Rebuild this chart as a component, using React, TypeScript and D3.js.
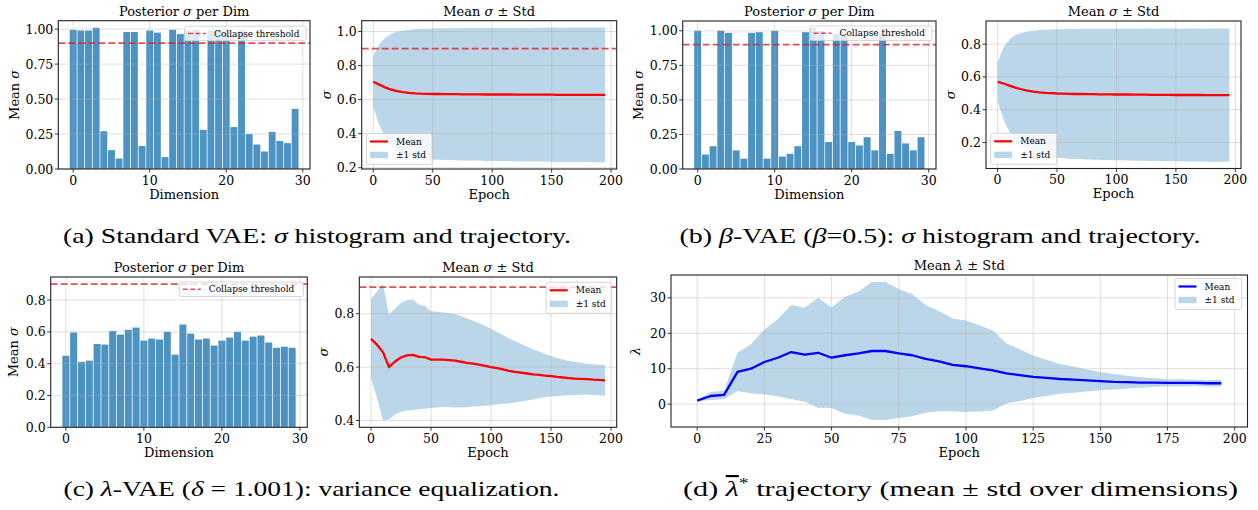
import React from "react";
import * as d3 from "d3";

// ---------------- data ----------------
const dims = d3.range(30);
const epochs = d3.range(0, 200, 5);
const threshold = 0.9;

const sigmaStandard = [0.995, 0.99, 0.99, 1.01, 0.27, 0.135, 0.075, 0.98, 0.98, 0.165, 0.99, 0.975, 0.085, 0.995, 0.965, 0.99, 0.995, 0.28, 0.99, 0.99, 0.985, 0.3, 0.99, 0.25, 0.175, 0.125, 0.265, 0.2, 0.185, 0.43];
const sigmaBeta = [1.0, 0.105, 0.165, 1.0, 0.985, 0.135, 0.075, 0.985, 0.99, 0.075, 1.0, 0.09, 0.11, 0.165, 0.99, 1.02, 1.0, 0.195, 0.98, 0.98, 0.195, 0.17, 0.23, 0.135, 0.98, 0.11, 0.275, 0.185, 0.135, 0.23];
const sigmaLambda = [0.45, 0.596, 0.41, 0.419, 0.524, 0.52, 0.606, 0.583, 0.613, 0.627, 0.545, 0.558, 0.552, 0.6, 0.457, 0.646, 0.589, 0.552, 0.558, 0.514, 0.545, 0.564, 0.6, 0.545, 0.57, 0.577, 0.533, 0.5, 0.507, 0.5];

const meanStandard = [0.705, 0.688, 0.672, 0.659, 0.65, 0.644, 0.64, 0.637, 0.635, 0.634, 0.633, 0.633, 0.632, 0.632, 0.632, 0.631, 0.631, 0.631, 0.631, 0.63, 0.63, 0.63, 0.63, 0.63, 0.629, 0.629, 0.629, 0.629, 0.629, 0.629, 0.629, 0.628, 0.628, 0.628, 0.628, 0.628, 0.628, 0.628, 0.628, 0.628];
const stdStandard = [0.15, 0.237, 0.29, 0.326, 0.348, 0.362, 0.371, 0.377, 0.381, 0.383, 0.385, 0.386, 0.387, 0.387, 0.388, 0.388, 0.389, 0.389, 0.389, 0.39, 0.39, 0.391, 0.391, 0.391, 0.392, 0.392, 0.392, 0.393, 0.393, 0.393, 0.394, 0.394, 0.394, 0.395, 0.395, 0.395, 0.395, 0.396, 0.396, 0.396];

const meanBeta = [0.57, 0.56, 0.547, 0.535, 0.525, 0.517, 0.511, 0.506, 0.503, 0.501, 0.499, 0.498, 0.497, 0.496, 0.496, 0.495, 0.495, 0.494, 0.494, 0.494, 0.493, 0.493, 0.493, 0.492, 0.492, 0.492, 0.491, 0.491, 0.491, 0.491, 0.49, 0.49, 0.49, 0.49, 0.49, 0.489, 0.489, 0.489, 0.489, 0.489];
const stdBeta = [0.12, 0.22, 0.283, 0.32, 0.343, 0.36, 0.371, 0.38, 0.385, 0.388, 0.391, 0.393, 0.395, 0.396, 0.397, 0.398, 0.399, 0.399, 0.4, 0.4, 0.401, 0.401, 0.402, 0.402, 0.402, 0.403, 0.403, 0.403, 0.404, 0.404, 0.404, 0.404, 0.405, 0.405, 0.405, 0.405, 0.406, 0.406, 0.406, 0.406];

const meanLambdaSigma = [0.706, 0.684, 0.656, 0.6, 0.621, 0.636, 0.644, 0.646, 0.638, 0.637, 0.628, 0.628, 0.628, 0.626, 0.624, 0.62, 0.616, 0.613, 0.609, 0.605, 0.6, 0.596, 0.591, 0.586, 0.582, 0.579, 0.576, 0.573, 0.571, 0.568, 0.566, 0.563, 0.561, 0.559, 0.557, 0.556, 0.555, 0.553, 0.552, 0.55];
const stdLambdaSigma = [0.148, 0.2, 0.256, 0.196, 0.199, 0.204, 0.207, 0.207, 0.196, 0.193, 0.181, 0.179, 0.177, 0.176, 0.175, 0.171, 0.166, 0.161, 0.156, 0.15, 0.144, 0.136, 0.128, 0.122, 0.115, 0.108, 0.101, 0.094, 0.087, 0.081, 0.076, 0.071, 0.067, 0.064, 0.062, 0.06, 0.058, 0.058, 0.057, 0.058];

const meanLambda = [1.0, 2.3, 2.6, 9.1, 10.0, 11.9, 13.1, 14.7, 14.0, 14.5, 13.1, 13.8, 14.3, 15.0, 15.0, 14.3, 13.8, 12.8, 12.1, 11.1, 10.7, 10.1, 9.5, 8.7, 8.2, 7.7, 7.4, 7.1, 6.9, 6.7, 6.5, 6.3, 6.2, 6.1, 6.1, 6.0, 6.0, 6.0, 5.9, 5.9];
const stdLambda = [0.2, 1.1, 1.2, 5.4, 6.9, 9.2, 10.9, 13.3, 13.3, 15.5, 14.2, 16.5, 17.5, 19.5, 19.5, 18.2, 17.2, 15.2, 14.1, 13.1, 12.9, 12.2, 11.3, 8.5, 7.3, 6.0, 5.1, 4.2, 3.7, 3.1, 2.6, 2.2, 1.8, 1.5, 1.2, 1.0, 1.0, 0.9, 0.9, 0.9];

const barTicksX = [0, 10, 20, 30];
const epochTicks = [0, 50, 100, 150, 200];
const epochTicksD = [0, 25, 50, 75, 100, 125, 150, 175, 200];
const ticksA1 = [0, 0.25, 0.5, 0.75, 1.0];
const ticksA2 = [0.2, 0.4, 0.6, 0.8, 1.0];
const ticksB2 = [0.2, 0.4, 0.6, 0.8];
const ticksC1 = [0, 0.2, 0.4, 0.6, 0.8];
const ticksC2 = [0.4, 0.6, 0.8];
const ticksD = [0, 10, 20, 30];

// ---------------- styles ----------------
const FONT = "'DejaVu Serif', serif";
const CAP_FONT = "'Liberation Serif', serif";
const C0 = "#1f77b4";
const THR = "#d62728";

type Box = { l: number; r: number; t: number; b: number };

function padExt(lo: number, hi: number): [number, number] {
  const r = hi - lo;
  return [lo - 0.05 * r, hi + 0.05 * r];
}

const It = ({ children }: any) => <tspan fontStyle="italic">{children}</tspan>;

function Panel(props: any) {
  const { id, box, xd, yd, xt, yt, xf, yf, title, xlabel, ylabel, ylx, render } = props;
  const b: Box = box;
  const x = d3.scaleLinear().domain(xd).range([b.l, b.r]);
  const y = d3.scaleLinear().domain(yd).range([b.b, b.t]);
  const parts = render(x, y);
  const cx = (b.l + b.r) / 2;
  const cy = (b.t + b.b) / 2;
  return (
    <g>
      <defs>
        <clipPath id={id}>
          <rect x={b.l} y={b.t} width={b.r - b.l} height={b.b - b.t} />
        </clipPath>
      </defs>
      <g clipPath={`url(#${id})`}>
        {parts.under}
        {xt.map((v: number) => (
          <line key={"gx" + v} x1={x(v)} x2={x(v)} y1={b.t} y2={b.b} stroke="#b0b0b0" strokeOpacity={0.5} strokeWidth={0.8} />
        ))}
        {yt.map((v: number) => (
          <line key={"gy" + v} x1={b.l} x2={b.r} y1={y(v)} y2={y(v)} stroke="#b0b0b0" strokeOpacity={0.5} strokeWidth={0.8} />
        ))}
        {parts.over}
      </g>
      <rect x={b.l} y={b.t} width={b.r - b.l} height={b.b - b.t} fill="none" stroke="#222" strokeWidth={1.1} />
      {xt.map((v: number) => (
        <g key={"tx" + v}>
          <line x1={x(v)} x2={x(v)} y1={b.b} y2={b.b + 3.5} stroke="#222" strokeWidth={0.9} />
          <text x={x(v)} y={b.b + 15.5} textAnchor="middle" fontSize={12.5} fontFamily={FONT} fill="#000">
            {xf(v)}
          </text>
        </g>
      ))}
      {yt.map((v: number) => (
        <g key={"ty" + v}>
          <line x1={b.l - 3.5} x2={b.l} y1={y(v)} y2={y(v)} stroke="#222" strokeWidth={0.9} />
          <text x={b.l - 5} y={y(v)} dy="0.36em" textAnchor="end" fontSize={12.5} fontFamily={FONT} fill="#000">
            {yf(v)}
          </text>
        </g>
      ))}
      <text x={cx} y={b.t - 5} textAnchor="middle" fontSize={13} fontFamily={FONT} fill="#000">
        {title}
      </text>
      <text x={cx} y={b.b + 29.5} textAnchor="middle" fontSize={13} fontFamily={FONT} fill="#000">
        {xlabel}
      </text>
      <text
        transform={`translate(${ylx},${cy}) rotate(-90)`}
        textAnchor="middle"
        dy="0.36em"
        fontSize={13}
        fontFamily={FONT}
        fill="#000"
      >
        {ylabel}
      </text>
      {parts.legend}
    </g>
  );
}

function Legend({ x, y, w, items }: any) {
  const n = items.length;
  const h = n === 1 ? 14.5 : 31;
  return (
    <g>
      <rect x={x} y={y} width={w} height={h} rx={2} fill="#fff" fillOpacity={0.8} stroke="#cccccc" strokeWidth={0.8} />
      {items.map((it: any, i: number) => {
        const cy = y + (n === 1 ? 7.25 : 8 + i * 13.5);
        let handle;
        if (it.type === "patch") {
          handle = <rect x={x + 3.5} y={cy - 3.2} width={18} height={6.4} fill={C0} fillOpacity={0.3} />;
        } else if (it.type === "dash") {
          handle = <line x1={x + 3.5} x2={x + 21.5} y1={cy} y2={cy} stroke={THR} strokeOpacity={0.8} strokeWidth={1.6} strokeDasharray="5,2.5" />;
        } else {
          handle = <line x1={x + 3.5} x2={x + 21.5} y1={cy} y2={cy} stroke={it.color} strokeWidth={2.2} />;
        }
        return (
          <g key={i}>
            {handle}
            <text x={x + 29.5} y={cy} dy="0.35em" fontSize={9} fontFamily={FONT} fill="#000">
              {it.label}
            </text>
          </g>
        );
      })}
    </g>
  );
}

function barRender(values: number[], legendBox: any) {
  return (x: any, y: any) => {
    const w = x(0.9) - x(0);
    return {
      under: values.map((v, i) => (
        <rect key={i} x={x(dims[i] - 0.45)} y={y(v)} width={w} height={y(0) - y(v)} fill={C0} fillOpacity={0.8} />
      )),
      over: (
        <line x1={x.range()[0]} x2={x.range()[1]} y1={y(threshold)} y2={y(threshold)} stroke={THR} strokeOpacity={0.8} strokeWidth={1.8} strokeDasharray="7,3" />
      ),
      legend: <Legend {...legendBox} items={[{ type: "dash", label: "Collapse threshold" }]} />,
    };
  };
}

function trajRender(mean: number[], std: number[], color: string, legendBox: any, showThr: boolean) {
  return (x: any, y: any) => {
    const area = d3
      .area<number>()
      .x((_, i) => x(epochs[i]))
      .y0((m, i) => y(m - std[i]))
      .y1((m, i) => y(m + std[i]));
    const line = d3
      .line<number>()
      .x((_, i) => x(epochs[i]))
      .y((m) => y(m));
    return {
      under: <path d={area(mean) || ""} fill={C0} fillOpacity={0.3} stroke="none" />,
      over: (
        <g>
          <path d={line(mean) || ""} fill="none" stroke={color} strokeWidth={2.3} strokeLinejoin="round" />
          {showThr && (
            <line x1={x.range()[0]} x2={x.range()[1]} y1={y(threshold)} y2={y(threshold)} stroke={THR} strokeOpacity={0.8} strokeWidth={1.8} strokeDasharray="7,3" />
          )}
        </g>
      ),
      legend: (
        <Legend
          {...legendBox}
          items={[
            { type: "line", color, label: "Mean" },
            { type: "patch", label: "±1 std" },
          ]}
        />
      ),
    };
  };
}

function trajDomain(mean: number[], std: number[], thr: boolean): [number, number] {
  let lo = d3.min(mean.map((m, i) => m - std[i])) as number;
  let hi = d3.max(mean.map((m, i) => m + std[i])) as number;
  if (thr) {
    lo = Math.min(lo, threshold);
    hi = Math.max(hi, threshold);
  }
  return padExt(lo, hi);
}

const barXDomain = padExt(-0.45, 29.45);
const epochXDomain = padExt(0, 195);

const f2 = (v: number) => v.toFixed(2);
const f1 = (v: number) => v.toFixed(1);
const f0 = (v: number) => d3.format("d")(v);

export default function App() {
  const boxA1 = { l: 58.3, r: 310, t: 20.7, b: 169 };
  const boxA2 = { l: 361.7, r: 616.7, t: 20.7, b: 169 };
  const boxB1 = { l: 682.7, r: 936, t: 21, b: 169 };
  const boxB2 = { l: 986, r: 1241, t: 21, b: 168.5 };
  const boxC1 = { l: 50.7, r: 307.3, t: 277, b: 427.3 };
  const boxC2 = { l: 359.3, r: 616.7, t: 277, b: 427.3 };
  const boxD = { l: 671, r: 1247.5, t: 275, b: 427 };

  const sigmaLabel = (
    <>
      Mean <It>σ</It>
    </>
  );
  const postTitle = (
    <>
      Posterior <It>σ</It> per Dim
    </>
  );
  const meanTitle = (
    <>
      Mean <It>σ</It> ± Std
    </>
  );

  const capStyle = { fontSize: 21.5, fontFamily: CAP_FONT };

  return (
    <svg width={1258} height={510} style={{ position: "absolute", left: 0, top: 0 }} xmlns="http://www.w3.org/2000/svg">
      <rect x={0} y={0} width={1258} height={510} fill="#fff" />
      <Panel
        id="cA1"
        box={boxA1}
        xd={barXDomain}
        yd={[0, (d3.max(sigmaStandard) as number) * 1.05]}
        xt={barTicksX}
        yt={ticksA1}
        xf={f0}
        yf={f2}
        title={postTitle}
        xlabel="Dimension"
        ylabel={sigmaLabel}
        ylx={14}
        render={barRender(sigmaStandard, { x: boxA1.r - 125.5, y: boxA1.t + 5.5, w: 121.5 })}
      />
      <Panel
        id="cA2"
        box={boxA2}
        xd={epochXDomain}
        yd={trajDomain(meanStandard, stdStandard, true)}
        xt={epochTicks}
        yt={ticksA2}
        xf={f0}
        yf={f1}
        title={meanTitle}
        xlabel="Epoch"
        ylabel={<It>σ</It>}
        ylx={326.5}
        render={trajRender(meanStandard, stdStandard, "#ff0000", { x: boxA2.l + 4.8, y: boxA2.b - 35.5, w: 65.5 }, true)}
      />
      <Panel
        id="cB1"
        box={boxB1}
        xd={barXDomain}
        yd={[0, (d3.max(sigmaBeta) as number) * 1.05]}
        xt={barTicksX}
        yt={ticksA1}
        xf={f0}
        yf={f2}
        title={postTitle}
        xlabel="Dimension"
        ylabel={sigmaLabel}
        ylx={638.5}
        render={barRender(sigmaBeta, { x: boxB1.r - 126, y: boxB1.t + 5, w: 122 })}
      />
      <Panel
        id="cB2"
        box={boxB2}
        xd={epochXDomain}
        yd={trajDomain(meanBeta, stdBeta, true)}
        xt={epochTicks}
        yt={ticksB2}
        xf={f0}
        yf={f1}
        title={meanTitle}
        xlabel="Epoch"
        ylabel={<It>σ</It>}
        ylx={950}
        render={trajRender(meanBeta, stdBeta, "#ff0000", { x: boxB2.l + 4.7, y: boxB2.b - 35.2, w: 66 })}
      />
      <Panel
        id="cC1"
        box={boxC1}
        xd={barXDomain}
        yd={[0, Math.max(d3.max(sigmaLambda) as number, threshold) * 1.05]}
        xt={barTicksX}
        yt={ticksC1}
        xf={f0}
        yf={f1}
        title={postTitle}
        xlabel="Dimension"
        ylabel={sigmaLabel}
        ylx={13.5}
        render={barRender(sigmaLambda, { x: boxC1.r - 128, y: boxC1.t + 5, w: 124 })}
      />
      <Panel
        id="cC2"
        box={boxC2}
        xd={epochXDomain}
        yd={trajDomain(meanLambdaSigma, stdLambdaSigma, true)}
        xt={epochTicks}
        yt={ticksC2}
        xf={f0}
        yf={f1}
        title={meanTitle}
        xlabel="Epoch"
        ylabel={<It>σ</It>}
        ylx={323.5}
        render={trajRender(meanLambdaSigma, stdLambdaSigma, "#ff0000", { x: boxC2.r - 70.5, y: boxC2.t + 5.3, w: 65 }, true)}
      />
      <Panel
        id="cD"
        box={boxD}
        xd={epochXDomain}
        yd={trajDomain(meanLambda, stdLambda, false)}
        xt={epochTicksD}
        yt={ticksD}
        xf={f0}
        yf={f0}
        title={
          <>
            Mean <It>λ</It> ± Std
          </>
        }
        xlabel="Epoch"
        ylabel={<It>λ</It>}
        ylx={635}
        render={trajRender(meanLambda, stdLambda, "#0000ff", { x: boxD.r - 72.5, y: boxD.t + 3.5, w: 66.7 }, false)}
      />

      {/* captions */}
      <text x={317} y={243} textAnchor="middle" {...capStyle} textLength={508} lengthAdjust="spacingAndGlyphs" fill="#000">
        (a) Standard VAE: <It>σ</It> histogram and trajectory.
      </text>
      <text x={940} y={243} textAnchor="middle" {...capStyle} textLength={521} lengthAdjust="spacingAndGlyphs" fill="#000">
        (b) <It>β</It>-VAE (<It>β</It>=0.5): <It>σ</It> histogram and trajectory.
      </text>
      <text x={311.5} y={496} textAnchor="middle" {...capStyle} textLength={496} lengthAdjust="spacingAndGlyphs" fill="#000">
        (c) <It>λ</It>-VAE (<It>δ</It> = 1.001): variance equalization.
      </text>
      <text x={960.5} y={496} textAnchor="middle" {...capStyle} textLength={555} lengthAdjust="spacingAndGlyphs" fill="#000">
        (d) <tspan fontStyle="italic" textDecoration="overline">λ</tspan>
        <tspan fontSize={14} dy={-8}>
          *
        </tspan>
        <tspan dy={8}> trajectory (mean ± std over dimensions)</tspan>
      </text>
    </svg>
  );
}
